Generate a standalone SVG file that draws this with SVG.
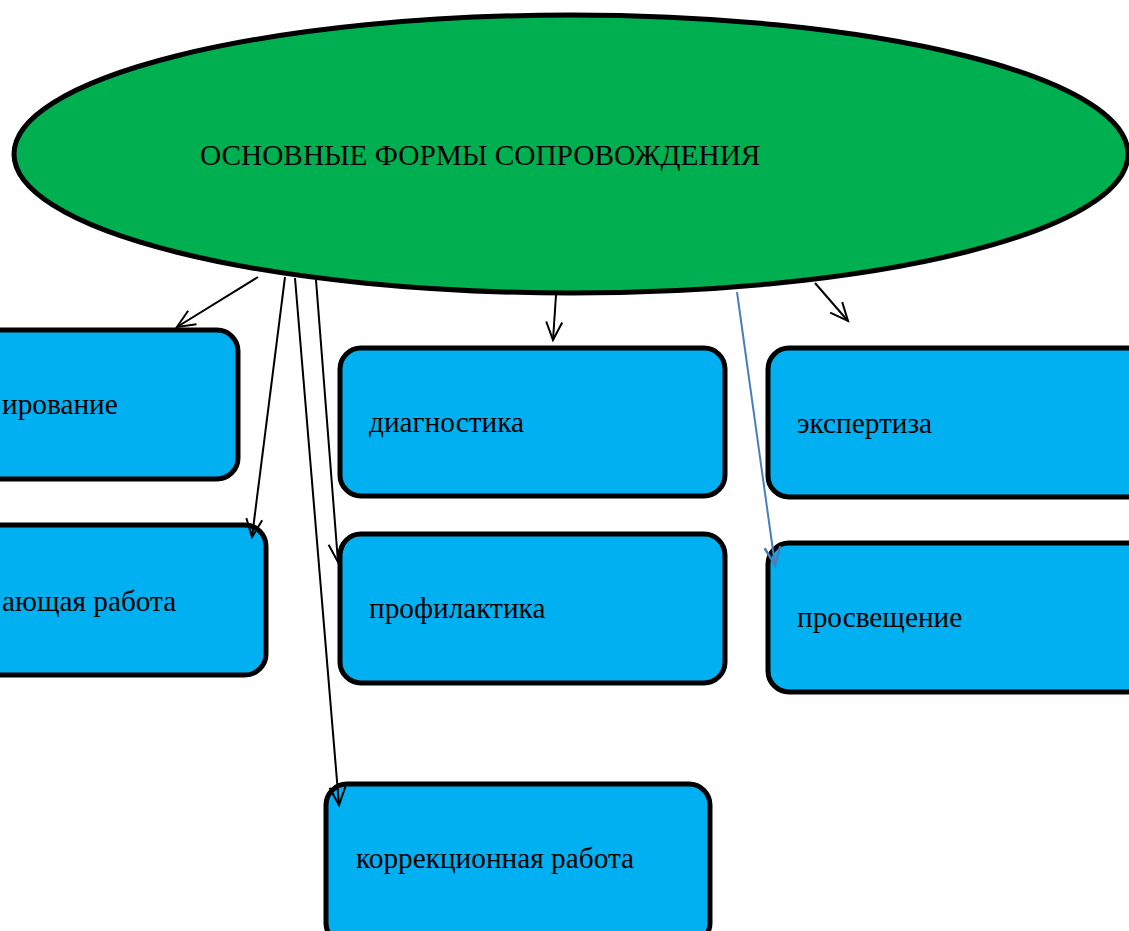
<svg xmlns="http://www.w3.org/2000/svg" width="1129" height="931" viewBox="0 0 1129 931">
<style>
.box{fill:#00B0F0;stroke:#000;stroke-width:5}
.lbl{font-family:"Liberation Serif","Times New Roman",serif;font-size:29.3px;fill:#000}
.con{fill:none;stroke:#000;stroke-width:2}
.blue{fill:none;stroke:#4A7EBB;stroke-width:2}
</style>
<defs>
<marker id="arr" markerUnits="userSpaceOnUse" markerWidth="40" markerHeight="40" refX="0" refY="0" orient="auto" overflow="visible">
<path d="M-18,-8 L0,0 L-18,8" fill="none" stroke="#000" stroke-width="2"/>
</marker>
<marker id="arrb" markerUnits="userSpaceOnUse" markerWidth="40" markerHeight="40" refX="0" refY="0" orient="auto" overflow="visible">
<path d="M-18,-8 L0,0 L-18,8" fill="none" stroke="#4A7EBB" stroke-width="2.5"/>
</marker>
</defs>
<rect width="1129" height="931" fill="#fff"/>
<g id="main">
<ellipse cx="571" cy="154" rx="557" ry="139" fill="#00B050" stroke="#000" stroke-width="5"/>
<text class="lbl" x="200" y="165">ОСНОВНЫЕ ФОРМЫ СОПРОВОЖДЕНИЯ</text>
</g>
<g id="consult">
<rect class="box" x="-150" y="330" width="388" height="149" rx="21"/>
<text class="lbl" x="2" y="414">ирование</text>
</g>
<g id="develop">
<rect class="box" x="-120" y="525" width="386" height="150" rx="21"/>
<text class="lbl" x="2" y="611">ающая работа</text>
</g>
<g id="diag">
<rect class="box" x="340" y="348" width="385" height="148" rx="21"/>
<text class="lbl" x="369" y="432">диагностика</text>
</g>
<g id="prof">
<rect class="box" x="340" y="534" width="385" height="149" rx="21"/>
<text class="lbl" x="369" y="618">профилактика</text>
</g>
<g id="expert">
<rect class="box" x="768" y="348" width="400" height="149" rx="21"/>
<text class="lbl" x="797" y="433">экспертиза</text>
</g>
<g id="prosv">
<rect class="box" x="768" y="543" width="400" height="149" rx="21"/>
<text class="lbl" x="797" y="627">просвещение</text>
</g>
<g id="korr">
<rect class="box" x="326" y="784" width="384" height="160" rx="21"/>
<text class="lbl" x="356" y="868">коррекционная работа</text>
</g>
<g id="connectors">
<line class="con" x1="258" y1="277" x2="177" y2="327" marker-end="url(#arr)"/>
<line class="con" x1="285" y1="277" x2="252" y2="537" marker-end="url(#arr)"/>
<line class="con" x1="295" y1="278" x2="339" y2="805" marker-end="url(#arr)"/>
<line class="con" x1="316" y1="280" x2="338" y2="562" marker-end="url(#arr)"/>
<line class="con" x1="556" y1="295" x2="553" y2="340" marker-end="url(#arr)"/>
<line class="con" x1="815" y1="283" x2="848" y2="321" marker-end="url(#arr)"/>
<line class="blue" x1="737" y1="292" x2="775" y2="565" marker-end="url(#arrb)"/>
</g>
</svg>
